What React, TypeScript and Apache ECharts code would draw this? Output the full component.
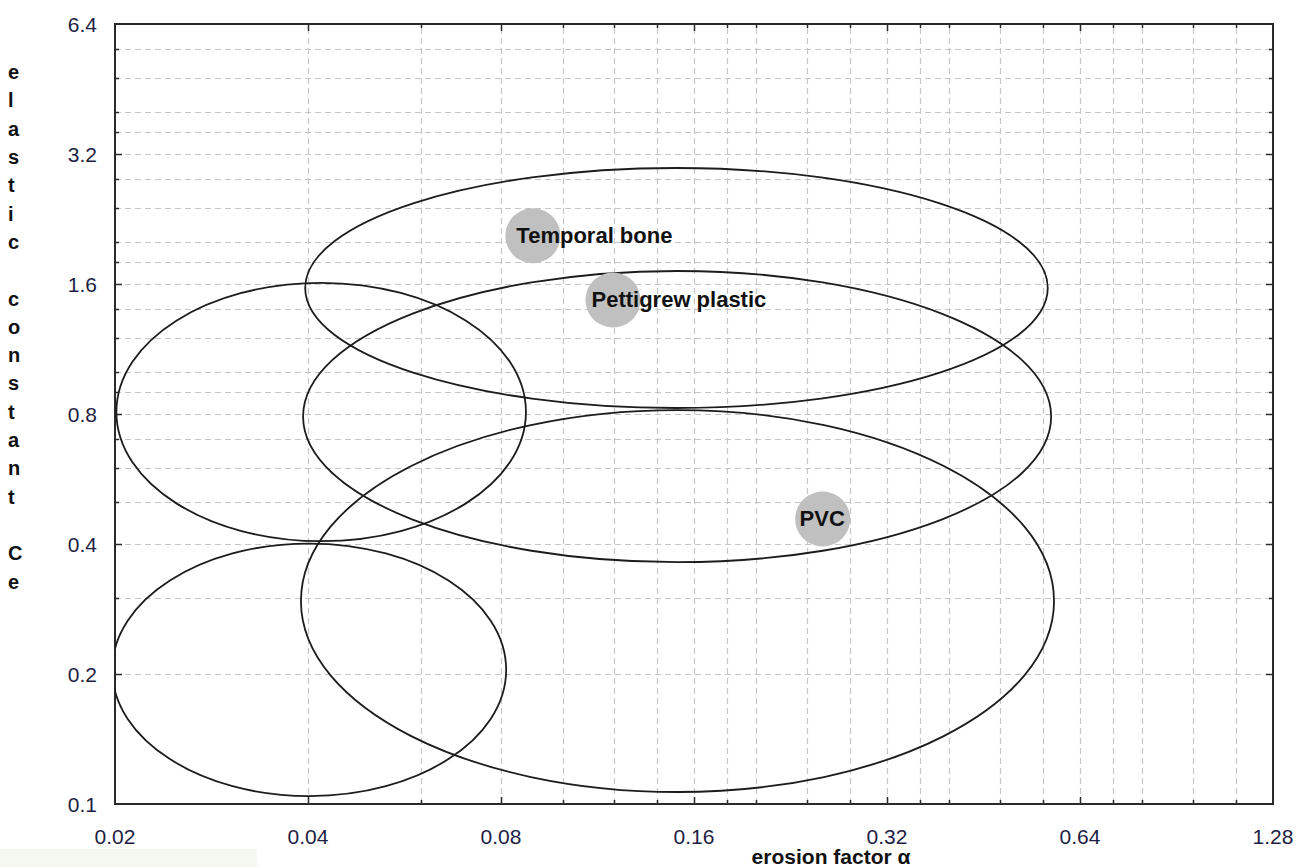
import React, { useEffect, useRef } from "react";
import * as echarts from "echarts";

// Axis tick labels (log base 2 axes)
const xTicks = [0.02, 0.04, 0.08, 0.16, 0.32, 0.64, 1.28];
const yTicks = [0.1, 0.2, 0.4, 0.8, 1.6, 3.2, 6.4];
// Intermediate (minor) grid values
const xMinorGrid = [0.06, 0.1, 0.12, 0.14, 0.18, 0.2, 0.24, 0.28, 0.36, 0.4, 0.48, 0.56, 0.72, 0.8, 0.96, 1.12];
const yMinorGrid = [0.3, 0.5, 0.6, 0.7, 0.9, 1.0, 1.2, 1.4, 1.8, 2.0, 2.4, 2.8, 3.6, 4.0, 4.8, 5.6];

// Ellipses: extent in erosion factor α and elastic constant Ce
const ellipseAlphaMin = [0.0396, 0.0393, 0.039, 0.0201, 0.0198];
const ellipseAlphaMax = [0.57, 0.577, 0.583, 0.0875, 0.0815];
const ellipseCeMin = [0.826, 0.363, 0.1066, 0.406, 0.1043];
const ellipseCeMax = [2.97, 1.715, 0.817, 1.61, 0.401];

// Materials
const materials = ["Temporal bone", "Pettigrew plastic", "PVC"];
const materialAlpha = [0.0897, 0.1196, 0.254];
const materialCe = [2.07, 1.469, 0.457];

const FONT = "'Liberation Sans', Arial, sans-serif";
const lx = (v: number) => Math.log2(v / xTicks[0]);
const ly = (v: number) => Math.log2(v / yTicks[0]);
const X_MAX = lx(xTicks[xTicks.length - 1]);
const Y_MAX = ly(yTicks[yTicks.length - 1]);
const GRID_COLOR = "#c6c6c6";
const AXIS_COLOR = "#2a2a2a";

const yTitle = "elastic constant Ce".split("").join("\n");

export default function App() {
  const ref = useRef<HTMLDivElement>(null);
  useEffect(() => {
    if (!ref.current) return;
    const chart = echarts.init(ref.current, undefined, { renderer: "svg" });

    const vData = [
      ...xTicks.slice(1, -1).map((v) => [lx(v), 1]),
      ...xMinorGrid.map((v) => [lx(v), 0]),
    ];
    const hData = [
      ...yTicks.slice(1, -1).map((v) => [ly(v), 1]),
      ...yMinorGrid.map((v) => [ly(v), 0]),
    ];

    const ellipseData = ellipseAlphaMin.map((a0, i) => {
      const x0 = lx(a0), x1 = lx(ellipseAlphaMax[i]);
      const y0 = ly(ellipseCeMin[i]), y1 = ly(ellipseCeMax[i]);
      return [(x0 + x1) / 2, (y0 + y1) / 2, (x1 - x0) / 2, (y1 - y0) / 2];
    });

    const labelOffsets: any[] = [
      { position: [11, 27], align: "left" },
      { position: [6, 27], align: "left" },
      { position: [27, 27], align: "center" },
    ];

    const option: any = {
      animation: false,
      backgroundColor: "#ffffff",
      grid: {
        left: 115,
        top: 24,
        width: 1158,
        height: 780,
        show: true,
        borderColor: AXIS_COLOR,
        borderWidth: 2,
        backgroundColor: "transparent",
      },
      xAxis: {
        type: "value",
        min: 0,
        max: X_MAX,
        interval: 1,
        axisLine: { show: false },
        axisTick: { show: false },
        splitLine: { show: false },
        axisLabel: {
          fontSize: 21,
          lineHeight: 18,
          fontFamily: FONT,
          color: "#1e1e44",
          margin: 23,
          formatter: (v: number) => String(xTicks[Math.round(v)]),
        },
      },
      yAxis: {
        type: "value",
        min: 0,
        max: Y_MAX,
        interval: 1,
        axisLine: { show: false },
        axisTick: { show: false },
        splitLine: { show: false },
        axisLabel: {
          fontSize: 21,
          fontFamily: FONT,
          color: "#1e1e44",
          margin: 18,
          formatter: (v: number) => String(yTicks[Math.round(v)]),
        },
      },
      graphic: [
        {
          type: "rect",
          left: 0,
          top: 849,
          z: -1,
          shape: { width: 257, height: 18 },
          style: { fill: "#f5f7f1" },
        },
        {
          type: "text",
          left: 8,
          top: 58,
          style: {
            text: yTitle,
            fontSize: 20,
            fontWeight: "bold",
            fontFamily: FONT,
            fill: "#111",
            lineHeight: 28.3,
            align: "center",
            width: 22,
          },
        },
        {
          type: "text",
          x: 831,
          y: 856.5,
          style: {
            text: "erosion factor α",
            fontSize: 21,
            lineHeight: 19,
            fontFamily: FONT,
            fontWeight: "bold",
            fill: "#111",
            align: "center",
            verticalAlign: "middle",
          },
        },
      ],
      series: [
        {
          type: "custom",
          name: "vgrid",
          z: 1,
          silent: true,
          data: vData,
          encode: { x: 0, y: 1 },
          renderItem: (params: any, api: any) => {
            const x = api.value(0);
            const major = api.value(1) === 1;
            const b = api.coord([x, 0]);
            const t = api.coord([x, Y_MAX]);
            const px = Math.round(b[0]) + 0.5;
            const len = major ? 7 : 4;
            return {
              type: "group",
              children: [
                {
                  type: "line",
                  shape: { x1: px, y1: b[1], x2: px, y2: t[1] },
                  style: { stroke: GRID_COLOR, lineWidth: 1.2, lineDash: [6, 4] },
                },
                {
                  type: "line",
                  shape: { x1: px, y1: b[1], x2: px, y2: b[1] - len },
                  style: { stroke: AXIS_COLOR, lineWidth: 1.5 },
                },
                {
                  type: "line",
                  shape: { x1: px, y1: t[1], x2: px, y2: t[1] + len },
                  style: { stroke: AXIS_COLOR, lineWidth: 1.5 },
                },
              ],
            };
          },
        },
        {
          type: "custom",
          name: "hgrid",
          z: 1,
          silent: true,
          data: hData,
          encode: { x: 1, y: 0 },
          renderItem: (params: any, api: any) => {
            const y = api.value(0);
            const major = api.value(1) === 1;
            const l = api.coord([0, y]);
            const r = api.coord([X_MAX, y]);
            const py = Math.round(l[1]) + 0.5;
            const len = major ? 7 : 4;
            return {
              type: "group",
              children: [
                {
                  type: "line",
                  shape: { x1: l[0], y1: py, x2: r[0], y2: py },
                  style: { stroke: GRID_COLOR, lineWidth: 1.2, lineDash: [6, 4] },
                },
                {
                  type: "line",
                  shape: { x1: l[0], y1: py, x2: l[0] + len, y2: py },
                  style: { stroke: AXIS_COLOR, lineWidth: 1.5 },
                },
                {
                  type: "line",
                  shape: { x1: r[0], y1: py, x2: r[0] - len, y2: py },
                  style: { stroke: AXIS_COLOR, lineWidth: 1.5 },
                },
              ],
            };
          },
        },
        {
          type: "custom",
          name: "ellipses",
          z: 2,
          silent: true,
          clip: true,
          data: ellipseData,
          encode: { x: 0, y: 1 },
          renderItem: (params: any, api: any) => {
            const c = api.coord([api.value(0), api.value(1)]);
            const s = api.size([api.value(2), api.value(3)]);
            return {
              type: "ellipse",
              shape: { cx: c[0], cy: c[1], rx: s[0], ry: s[1] },
              style: { fill: "none", stroke: "#1c1c1c", lineWidth: 1.8 },
            };
          },
        },
        {
          type: "scatter",
          name: "materials",
          z: 3,
          symbolSize: 55,
          itemStyle: { color: "#c0c0c0", opacity: 1 },
          data: materials.map((name, i) => ({
            name,
            value: [lx(materialAlpha[i]), ly(materialCe[i])],
            label: labelOffsets[i],
          })),
          label: {
            show: true,
            formatter: (p: any) => p.name,
            fontSize: 22,
            fontWeight: "bold",
            fontFamily: FONT,
            color: "#111",
            verticalAlign: "middle",
          },
        },
      ],
    };

    chart.setOption(option);
    return () => chart.dispose();
  }, []);

  return (
    <div
      ref={ref}
      style={{ position: "fixed", left: 0, top: 0, width: 1300, height: 867, background: "#fff" }}
    />
  );
}
